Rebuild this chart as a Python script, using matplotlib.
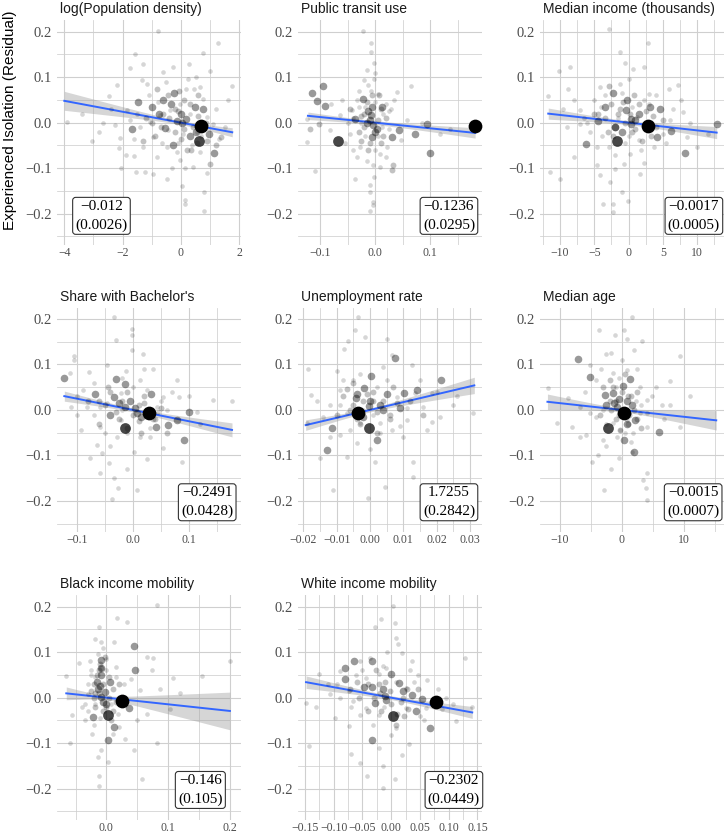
import matplotlib
matplotlib.use("Agg")
import matplotlib.pyplot as plt
import numpy as np
from matplotlib.ticker import MultipleLocator, FuncFormatter

# ---------------- data ----------------
titles = ["log(Population density)", "Public transit use", "Median income (thousands)",
          "Share with Bachelor's", "Unemployment rate", "Median age",
          "Black income mobility", "White income mobility"]
coefs = [-0.012, -0.1236, -0.0017, -0.2491, 1.7255, -0.0015, -0.146, -0.2302]
ses = [0.0026, 0.0295, 0.0005, 0.0428, 0.2842, 0.0007, 0.105, 0.0449]
coef_labels = ["\u22120.012", "\u22120.1236", "\u22120.0017", "\u22120.2491", "1.7255",
               "\u22120.0015", "\u22120.146", "\u22120.2302"]
se_labels = ["(0.0026)", "(0.0295)", "(0.0005)", "(0.0428)", "(0.2842)", "(0.0007)",
             "(0.105)", "(0.0449)"]
line_lo = [-4.0, -0.122, -11.7, -0.122, -0.0193, -12.0, -0.065, -0.148]
line_hi = [1.76, 0.182, 12.83, 0.176, 0.0313, 15.2, 0.2, 0.141]
x_limits = [(-4.25, 2.06), (-0.140, 0.1945), (-12.9, 13.9), (-0.135, 0.192),
            (-0.0216, 0.0336), (-13.2, 16.45), (-0.080, 0.218), (-0.162, 0.158)]
x_major = [2, 0.1, 5, 0.1, 0.01, 10, 0.1, 0.05]
x_minor = [1, 0.05, 2.5, 0.05, 0.005, 5, 0.05, 0.025]
x_decimals = [0, 1, 0, 1, 2, 0, 1, 2]
y_ticks = [-0.2, -0.1, 0.0, 0.1, 0.2]

# points: (x, y, weight class)
logpop_pts = [
    (0.69, -0.008, 5), (0.63, -0.041, 4),
    (1.14, -0.066, 3), (-0.24, 0.066, 3), (0.48, 0.035, 3), (0.19, 0.009, 3), (-0.13, 0.004, 3),
    (-1.46, 0.046, 3), (-1.69, -0.015, 3), (-0.26, -0.05, 3), (-1.0, 0.035, 3), (0.97, -0.024, 3),
    (-0.55, -0.012, 3), (0.05, 0.0, 3), (-0.35, 0.04, 3), (0.3, -0.03, 3), (0.75, 0.03, 3), (-0.75, 0.02, 3),
    (0.0, 0.02, 3), (-0.6, 0.05, 3), (0.5, -0.02, 3),
    (1.0, -0.09, 2), (1.39, -0.031, 2), (-0.83, 0.075, 2), (-0.6, 0.02, 2), (0.1, 0.05, 2), (-0.2, -0.02, 2),
    (0.4, -0.01, 2), (-1.2, 0.01, 2), (0.6, 0.06, 2), (-0.9, -0.03, 2), (0.2, -0.06, 2), (-0.45, 0.06, 2),
    (0.85, 0.0, 2), (-1.3, -0.04, 2), (0.0, -0.035, 2), (-0.1, 0.025, 2), (0.55, -0.045, 2),
    (-0.2, 0.03, 2), (0.3, 0.04, 2), (-0.7, -0.01, 2), (0.1, -0.015, 2), (-0.4, 0.01, 2), (0.6, 0.015, 2),
    (-1.0, 0.0, 2), (0.9, -0.04, 2), (-0.05, 0.07, 2), (0.35, -0.06, 2), (1.2, -0.05, 2),
    (-3.9, 0.002, 1), (-3.05, -0.041, 1), (-2.47, 0.058, 1), (-2.19, 0.083, 1), (-2.08, -0.033, 1),
    (-2.11, -0.055, 1), (-2.05, -0.1, 1), (-1.73, 0.121, 1), (-1.57, 0.151, 1), (-1.62, -0.074, 1),
    (-1.55, -0.108, 1), (-1.29, 0.13, 1), (-1.22, -0.108, 1), (-0.97, -0.112, 1), (-0.77, 0.202, 1),
    (-0.49, -0.124, 1), (0.02, -0.14, 1), (0.15, -0.17, 1), (0.14, -0.179, 1), (0.74, 0.154, 1),
    (1.27, 0.176, 1), (1.0, 0.113, 1), (0.79, -0.195, 1), (0.79, -0.152, 1), (1.75, 0.081, 1),
    (1.31, -0.035, 1), (0.29, 0.129, 1), (-0.26, 0.123, 1), (-0.61, 0.112, 1), (0.19, 0.075, 1),
    (0.65, 0.079, 1), (0.77, 0.053, 1), (-1.18, 0.086, 1), (-1.35, 0.094, 1), (-1.86, 0.028, 1),
    (-2.26, -0.005, 1), (-2.66, 0.0, 1), (-1.29, -0.053, 1), (-0.83, -0.075, 1), (-0.03, -0.083, 1),
    (0.42, -0.097, 1), (0.65, -0.064, 1), (0.37, -0.05, 1), (-0.49, -0.053, 1), (-0.95, -0.031, 1),
    (-0.72, 0.017, 1), (-0.38, 0.028, 1), (-0.03, 0.042, 1), (0.31, 0.02, 1), (0.88, 0.013, 1),
    (1.11, -0.002, 1), (-1.06, 0.002, 1), (-1.41, -0.009, 1), (-1.75, 0.006, 1), (-0.43, -0.017, 1),
    (0.08, -0.024, 1), (0.54, -0.02, 1), (-0.15, -0.065, 1), (0.25, 0.095, 1), (-0.5, 0.09, 1),
    (1.2, 0.03, 1), (1.5, -0.01, 1), (-2.4, 0.03, 1), (-1.9, -0.07, 1), (0.9, -0.11, 1), (-0.3, -0.1, 1),
    (0.5, 0.1, 1), (-1.1, 0.06, 1), (-0.65, -0.045, 1), (0.15, -0.1, 1), (1.6, 0.05, 1), (-3.4, 0.02, 1),
    (-2.8, -0.02, 1), (-1.5, 0.02, 1), (-0.8, 0.045, 1), (0.45, 0.075, 1), (-0.1, -0.045, 1),
    (0.7, -0.03, 1), (-1.6, -0.035, 1),
]
transit_pts = [
    (0.182, -0.008, 5), (-0.068, -0.04, 4),
    (-0.115, 0.066, 3), (-0.105, 0.047, 3), (-0.094, 0.081, 3), (-0.091, 0.036, 3), (0.094, -0.004, 3),
    (0.072, -0.024, 3), (0.1, -0.066, 3), (0.044, -0.017, 3), (0.03, -0.031, 3), (0.013, 0.035, 3),
    (-0.006, 0.035, 3), (-0.008, 0.017, 3), (-0.015, 0.0, 3), (-0.021, 0.053, 3), (-0.036, 0.008, 3),
    (0.003, -0.013, 3), (-0.006, -0.031, 3), (-0.01, 0.005, 3), (-0.004, -0.005, 3),
    (-0.012, 0.025, 3), (0.0, -0.02, 3),
    (-0.118, -0.015, 2), (-0.101, -0.004, 2), (0.032, -0.092, 2), (0.03, -0.105, 2), (-0.02, 0.02, 2),
    (-0.03, -0.02, 2), (0.01, -0.045, 2), (0.02, 0.01, 2), (-0.012, -0.06, 2), (-0.045, 0.03, 2),
    (0.008, 0.06, 2), (-0.025, -0.04, 2), (-0.02, -0.01, 2), (0.01, 0.03, 2), (-0.005, 0.06, 2),
    (-0.015, 0.045, 2), (0.005, 0.005, 2), (-0.025, 0.015, 2), (0.015, -0.03, 2), (-0.01, -0.045, 2),
    (-0.021, 0.202, 1), (-0.007, 0.176, 1), (-0.007, 0.156, 1), (-0.002, 0.132, 1), (-0.002, 0.097, 1),
    (-0.015, 0.115, 1), (-0.012, 0.082, 1), (-0.004, -0.094, 1), (-0.002, -0.119, 1), (-0.009, -0.138, 1),
    (-0.009, -0.152, 1), (-0.004, -0.174, 1), (-0.003, -0.18, 1), (-0.01, -0.195, 1), (-0.036, -0.123, 1),
    (-0.11, -0.107, 1), (-0.124, -0.042, 1), (0.04, 0.068, 1), (0.065, 0.08, 1), (0.029, 0.031, 1),
    (0.021, -0.053, 1), (0.009, -0.069, 1), (-0.033, -0.075, 1), (-0.027, -0.053, 1), (-0.045, -0.024, 1),
    (-0.042, 0.028, 1), (-0.033, 0.05, 1), (-0.02, 0.094, 1), (0.006, 0.064, 1), (-0.124, 0.007, 1),
    (-0.082, -0.017, 1), (-0.064, 0.017, 1), (0.048, -0.039, 1), (0.058, 0.006, 1), (0.136, -0.013, 1),
    (0.118, -0.024, 1), (0.009, -0.097, 1), (-0.05, 0.0, 1), (-0.055, -0.045, 1), (0.015, 0.02, 1),
    (-0.018, 0.035, 1), (0.0, 0.045, 1), (-0.03, 0.07, 1), (0.025, -0.015, 1), (-0.015, -0.085, 1),
    (-0.06, 0.05, 1), (0.035, 0.05, 1), (-0.04, -0.06, 1), (0.0, 0.11, 1), (0.005, -0.03, 1),
    (-0.025, 0.0, 1), (-0.08, 0.04, 1), (0.085, 0.0, 1), (0.02, -0.075, 1), (-0.03, 0.035, 1),
    (0.02, 0.04, 1), (-0.04, 0.01, 1), (0.0, -0.06, 1), (-0.008, 0.07, 1), (0.012, -0.01, 1),
    (-0.018, -0.03, 1), (0.025, 0.025, 1),
]
income_pts = [
    (2.83, -0.008, 5), (-1.71, -0.04, 4),
    (3.07, 0.035, 3), (4.54, 0.031, 3), (0.34, 0.009, 3), (0.34, -0.003, 3), (-2.2, 0.066, 3),
    (-3.37, 0.035, 3), (-0.39, 0.028, 3), (8.15, -0.066, 3), (12.83, -0.004, 3), (6.2, -0.019, 3),
    (4.15, -0.031, 3), (-6.2, -0.047, 3), (-1.95, -0.009, 3), (-4.4, 0.004, 3), (-0.24, 0.05, 3),
    (1.5, 0.02, 3), (-1.0, -0.02, 3), (-2.0, -0.01, 3), (1.0, 0.005, 3),
    (-2.5, 0.04, 2), (2.0, -0.04, 2), (0.8, 0.06, 2), (-3.0, -0.02, 2), (-5.0, 0.02, 2), (5.0, 0.005, 2),
    (1.0, -0.015, 2), (-0.5, 0.0, 2), (3.5, 0.015, 2), (-2.8, 0.08, 2), (3.2, -0.03, 2), (-1.2, 0.03, 2),
    (-1.5, 0.02, 2), (0.5, -0.02, 2), (-3.5, 0.01, 2), (1.5, 0.04, 2), (-2.2, -0.03, 2), (4.0, -0.01, 2),
    (-0.8, 0.045, 2), (2.5, 0.025, 2), (-4.5, 0.02, 2), (0.2, 0.02, 2),
    (-10.1, 0.114, 1), (-10.0, -0.123, 1), (-11.5, -0.108, 1), (-11.7, 0.058, 1), (-8.5, 0.123, 1),
    (-8.8, 0.073, 1), (-8.0, 0.05, 1), (-8.9, -0.009, 1), (-7.1, -0.002, 1), (-8.0, -0.075, 1),
    (-4.6, -0.094, 1), (-4.1, -0.116, 1), (-2.7, -0.13, 1), (-1.95, -0.101, 1), (-2.3, -0.178, 1),
    (-3.66, -0.178, 1), (-2.3, -0.196, 1), (-0.1, -0.173, 1), (-1.0, -0.152, 1), (-2.9, 0.205, 1),
    (-1.2, 0.156, 1), (-0.5, 0.132, 1), (0.6, 0.119, 1), (2.78, 0.176, 1), (2.2, 0.123, 1),
    (2.93, 0.063, 1), (5.9, 0.075, 1), (7.2, 0.083, 1), (6.1, 0.006, 1), (8.5, -0.031, 1),
    (10.0, -0.053, 1), (11.5, -0.024, 1), (2.3, -0.088, 1), (1.7, -0.112, 1), (-0.73, -0.09, 1),
    (0.24, -0.068, 1), (1.46, -0.039, 1), (-5.6, -0.02, 1), (-7.1, 0.028, 1), (-5.1, 0.05, 1),
    (-4.1, 0.079, 1), (-1.2, 0.086, 1), (1.2, 0.013, 1), (2.2, 0.05, 1), (3.7, -0.053, 1),
    (-2.9, -0.053, 1), (-4.6, -0.053, 1), (7.6, 0.05, 1), (8.0, 0.024, 1), (-6.5, 0.01, 1),
    (-3.5, 0.06, 1), (0.0, 0.095, 1), (4.0, 0.06, 1), (-0.5, -0.045, 1), (1.8, -0.06, 1),
    (-3.8, -0.03, 1), (5.5, -0.045, 1), (9.0, 0.0, 1), (-9.5, 0.03, 1), (0.5, 0.035, 1),
    (-1.5, 0.01, 1), (2.5, 0.0, 1), (-2.0, -0.07, 1), (6.5, 0.03, 1), (-4.0, 0.035, 1),
    (-1.0, 0.065, 1), (3.0, 0.04, 1), (0.0, -0.03, 1), (-6.0, 0.0, 1), (5.0, -0.025, 1),
]
bachelor_pts = [
    (0.029, -0.007, 5), (-0.015, -0.039, 4),
    (0.09, -0.066, 3), (0.1, -0.004, 3), (0.078, -0.022, 3), (0.063, -0.033, 3), (0.032, 0.035, 3),
    (-0.03, 0.067, 3), (-0.015, 0.056, 3), (-0.067, 0.034, 3), (-0.122, 0.071, 3), (-0.015, 0.006, 3),
    (0.003, 0.004, 3), (0.007, -0.007, 3), (-0.04, -0.011, 3), (0.041, -0.037, 3), (-0.034, 0.029, 3),
    (-0.005, 0.02, 3), (-0.025, 0.015, 3), (0.015, -0.015, 3),
    (-0.05, 0.01, 2), (0.02, 0.015, 2), (-0.025, -0.02, 2), (0.05, 0.005, 2), (-0.08, 0.02, 2),
    (0.015, -0.05, 2), (-0.01, 0.04, 2), (0.035, -0.02, 2), (-0.06, -0.03, 2), (0.06, -0.05, 2),
    (-0.045, 0.05, 2), (0.01, -0.025, 2), (-0.02, 0.02, 2), (0.0, -0.01, 2), (-0.04, 0.04, 2),
    (0.02, 0.03, 2), (-0.03, -0.005, 2), (0.01, 0.01, 2), (-0.06, 0.02, 2), (0.04, -0.02, 2),
    (-0.01, -0.04, 2),
    (-0.034, 0.204, 1), (-0.002, 0.177, 1), (-0.002, 0.165, 1), (-0.031, 0.154, 1), (-0.002, 0.132, 1),
    (0.018, 0.123, 1), (0.036, 0.089, 1), (-0.105, 0.119, 1), (-0.105, 0.11, 1), (-0.112, 0.082, 1),
    (-0.079, 0.084, 1), (-0.046, 0.099, 1), (-0.012, 0.086, 1), (0.078, 0.066, 1), (0.081, 0.029, 1),
    (0.143, 0.023, 1), (0.176, 0.02, 1), (0.114, -0.004, 1), (0.054, -0.084, 1), (0.087, -0.114, 1),
    (0.025, -0.108, 1), (0.008, -0.177, 1), (0.001, -0.092, 1), (-0.027, -0.172, 1), (-0.038, -0.196, 1),
    (-0.034, -0.15, 1), (-0.043, -0.117, 1), (-0.058, -0.139, 1), (-0.055, -0.095, 1), (-0.076, -0.106, 1),
    (-0.064, -0.077, 1), (-0.093, -0.044, 1), (-0.099, -0.011, 1), (-0.111, 0.007, 1), (-0.088, 0.044, 1),
    (-0.058, 0.007, 1), (-0.058, -0.037, 1), (-0.028, -0.059, 1), (-0.011, -0.051, 1), (0.013, -0.059, 1),
    (0.043, 0.007, 1), (0.054, 0.029, 1), (0.025, 0.044, 1), (0.013, 0.066, 1), (-0.022, 0.037, 1),
    (-0.046, 0.015, 1), (-0.082, 0.007, 1), (-0.022, -0.022, 1), (0.025, -0.015, 1), (0.06, 0.0, 1),
    (-0.07, 0.06, 1), (0.0, 0.05, 1), (0.03, -0.06, 1), (-0.04, -0.08, 1), (0.1, 0.03, 1),
    (0.12, -0.03, 1), (-0.1, 0.03, 1), (0.02, 0.09, 1), (-0.01, -0.13, 1), (0.07, 0.04, 1),
    (-0.02, 0.0, 1), (0.045, -0.005, 1), (0.05, 0.02, 1), (-0.07, -0.01, 1), (-0.02, 0.07, 1),
    (0.03, -0.04, 1), (-0.05, -0.05, 1),
]
unemp_pts = [
    (-0.0037, -0.007, 5), (-0.0002, -0.039, 4),
    (0.0022, -0.066, 3), (0.0212, 0.066, 3), (0.004, 0.0, 3), (0.005, 0.034, 3), (0.0102, 0.037, 3),
    (-0.0002, 0.009, 3), (-0.0017, 0.048, 3), (-0.0042, 0.026, 3), (0.0075, 0.114, 3), (0.0002, 0.075, 3),
    (-0.013, -0.089, 3), (-0.0115, -0.04, 3), (0.009, 0.004, 3), (0.014, 0.044, 3), (0.003, 0.01, 3),
    (-0.002, -0.015, 3), (0.0, 0.02, 3), (-0.004, 0.035, 3),
    (-0.006, 0.0, 2), (0.001, 0.02, 2), (-0.008, 0.03, 2), (0.006, -0.02, 2), (-0.003, -0.03, 2),
    (0.012, 0.02, 2), (-0.01, -0.01, 2), (0.002, -0.05, 2), (0.007, 0.05, 2), (-0.005, 0.06, 2),
    (0.016, -0.01, 2), (-0.001, 0.035, 2), (-0.002, 0.02, 2), (0.002, -0.005, 2), (-0.005, 0.01, 2),
    (0.004, 0.02, 2), (-0.004, -0.02, 2), (0.001, 0.04, 2), (-0.007, 0.045, 2), (0.006, -0.01, 2),
    (0.008, 0.015, 2),
    (-0.0185, 0.089, 1), (-0.0178, 0.033, 1), (-0.019, -0.029, 1), (-0.015, -0.106, 1), (-0.011, -0.177, 1),
    (-0.0035, 0.204, 1), (-0.0045, 0.176, 1), (-0.0015, 0.161, 1), (-0.0065, 0.152, 1), (0.0052, 0.155, 1),
    (-0.0078, 0.134, 1), (0.0065, 0.121, 1), (0.0125, 0.099, 1), (0.015, 0.066, 1), (0.0135, 0.037, 1),
    (0.0185, 0.037, 1), (0.021, -0.015, 1), (0.0185, -0.026, 1), (0.025, 0.011, 1), (0.031, -0.007, 1),
    (0.013, -0.114, 1), (0.013, -0.147, 1), (0.0045, -0.17, 1), (-0.0005, -0.194, 1), (0.0015, -0.114, 1),
    (-0.004, -0.073, 1), (-0.007, -0.103, 1), (-0.009, -0.055, 1), (-0.014, -0.015, 1), (-0.012, 0.011, 1),
    (-0.009, 0.044, 1), (-0.008, 0.066, 1), (-0.005, 0.066, 1), (0.002, 0.051, 1), (0.005, 0.066, 1),
    (0.0065, -0.044, 1), (0.003, -0.029, 1), (-0.003, -0.029, 1), (-0.007, -0.007, 1), (0.011, -0.022, 1),
    (0.008, 0.029, 1), (0.016, 0.007, 1), (0.017, -0.044, 1), (-0.016, 0.02, 1), (-0.012, -0.06, 1),
    (0.0, -0.085, 1), (0.01, -0.06, 1), (0.02, 0.04, 1), (0.026, 0.03, 1), (-0.01, 0.085, 1),
    (0.004, 0.095, 1), (-0.002, 0.0, 1), (0.001, -0.01, 1), (0.009, -0.035, 1), (-0.009, 0.01, 1),
    (0.011, 0.005, 1), (-0.003, 0.08, 1), (0.003, -0.05, 1), (-0.006, -0.045, 1),
]
age_pts = [
    (0.32, -0.007, 5), (-2.2, -0.039, 4),
    (0.32, -0.066, 3), (1.3, 0.067, 3), (0.1, 0.053, 3), (-2.7, 0.033, 3), (-1.4, 0.037, 3),
    (-2.5, 0.01, 3), (2.1, -0.022, 3), (5.9, -0.048, 3), (-7.15, 0.113, 3), (-5.2, 0.073, 3),
    (-0.86, 0.007, 3), (1.56, 0.012, 3), (1.9, -0.093, 3), (-0.5, 0.025, 3), (0.8, -0.03, 3),
    (-1.2, 0.015, 3), (0.8, 0.02, 3),
    (-1.0, -0.02, 2), (1.0, 0.03, 2), (-3.0, 0.05, 2), (2.5, 0.04, 2), (-1.8, 0.0, 2), (0.5, 0.08, 2),
    (3.0, -0.04, 2), (-3.5, -0.01, 2), (1.2, -0.01, 2), (-0.3, -0.045, 2), (2.0, 0.0, 2), (-2.0, 0.065, 2),
    (-1.0, 0.02, 2), (0.5, 0.0, 2), (-2.0, 0.02, 2), (1.5, 0.03, 2), (-0.5, -0.01, 2), (1.0, -0.03, 2),
    (-1.5, 0.05, 2), (0.0, 0.04, 2), (2.5, -0.02, 2),
    (-11.9, 0.048, 1), (-10.4, -0.029, 1), (-8.7, 0.026, 1), (-8.1, -0.037, 1), (-6.8, -0.059, 1),
    (-5.8, -0.055, 1), (-5.2, 0.099, 1), (-3.7, 0.176, 1), (-1.1, 0.165, 1), (0.32, 0.176, 1),
    (0.75, 0.155, 1), (1.56, 0.204, 1), (3.3, 0.152, 1), (1.9, 0.132, 1), (-2.6, 0.123, 1),
    (-1.8, 0.126, 1), (9.35, 0.119, 1), (7.7, 0.064, 1), (10.9, 0.031, 1), (7.7, 0.011, 1),
    (9.35, -0.037, 1), (4.9, 0.031, 1), (6.4, 0.011, 1), (1.7, -0.093, 1), (4.0, -0.139, 1),
    (3.4, -0.154, 1), (3.9, -0.172, 1), (4.0, -0.198, 1), (-2.9, -0.177, 1), (-1.8, -0.129, 1),
    (-0.4, -0.106, 1), (-3.8, -0.099, 1), (-4.9, -0.114, 1), (-3.0, -0.066, 1), (-0.3, -0.044, 1),
    (1.8, -0.051, 1), (4.0, -0.037, 1), (2.9, -0.007, 1), (4.0, 0.022, 1), (2.9, 0.051, 1),
    (0.75, 0.088, 1), (-1.4, 0.081, 1), (-4.1, 0.066, 1), (-4.1, -0.015, 1), (-6.8, 0.007, 1),
    (-5.2, -0.007, 1), (0.75, -0.022, 1), (-1.4, -0.029, 1), (4.0, -0.007, 1), (-2.5, -0.08, 1),
    (2.5, 0.09, 1), (0.0, 0.11, 1), (-1.0, 0.05, 1), (1.5, -0.07, 1), (5.5, 0.05, 1), (-6.0, 0.04, 1),
    (2.2, 0.02, 1), (-0.8, -0.06, 1), (6.8, -0.02, 1), (-3.3, 0.09, 1), (-3.0, 0.0, 1),
    (3.0, 0.01, 1), (-0.5, 0.07, 1), (0.5, -0.05, 1), (-2.5, -0.03, 1),
]
black_pts = [
    (0.025, -0.007, 5), (0.003, -0.037, 4),
    (0.012, -0.064, 3), (0.037, -0.023, 3), (0.006, 0.034, 3), (-0.009, 0.066, 3), (-0.009, 0.082, 3),
    (-0.008, 0.001, 3), (-0.008, 0.049, 3), (0.045, 0.113, 3), (0.046, 0.06, 3), (-0.013, 0.02, 3),
    (-0.002, 0.012, 3), (0.003, -0.094, 3), (-0.021, -0.042, 3), (-0.015, 0.035, 3), (0.0, -0.015, 3),
    (-0.01, 0.025, 3), (-0.005, -0.01, 3),
    (-0.02, 0.0, 2), (0.01, 0.02, 2), (-0.012, 0.06, 2), (-0.005, -0.03, 2), (0.015, -0.01, 2),
    (-0.018, -0.02, 2), (0.005, 0.045, 2), (-0.01, 0.075, 2), (0.02, 0.03, 2), (-0.025, 0.015, 2),
    (0.008, -0.05, 2), (-0.003, 0.09, 2), (-0.012, 0.01, 2), (-0.005, 0.03, 2), (-0.015, 0.05, 2),
    (0.0, -0.02, 2), (-0.02, 0.03, 2), (0.005, 0.0, 2), (-0.008, 0.065, 2), (-0.018, 0.01, 2),
    (0.01, -0.03, 2),
    (-0.065, 0.047, 1), (-0.059, -0.1, 1), (-0.055, -0.037, 1), (-0.045, 0.076, 1), (-0.026, 0.081, 1),
    (-0.012, 0.155, 1), (0.017, 0.175, 1), (0.034, 0.166, 1), (-0.019, 0.13, 1), (-0.008, 0.122, 1),
    (0.013, 0.122, 1), (0.082, 0.204, 1), (0.076, 0.088, 1), (0.074, 0.06, 1), (0.108, 0.043, 1),
    (0.155, 0.047, 1), (0.2, 0.08, 1), (0.087, 0.02, 1), (0.103, -0.024, 1), (0.082, -0.1, 1),
    (0.045, -0.114, 1), (0.058, -0.178, 1), (-0.012, -0.195, 1), (-0.012, -0.173, 1), (0.002, -0.141, 1),
    (-0.013, -0.13, 1), (-0.008, -0.116, 1), (-0.024, -0.079, 1), (-0.034, -0.05, 1), (0.021, -0.064, 1),
    (0.018, -0.035, 1), (0.029, 0.031, 1), (0.016, 0.067, 1), (-0.018, 0.045, 1), (-0.029, 0.009, 1),
    (-0.034, -0.013, 1), (-0.018, -0.013, 1), (0.008, -0.013, 1), (0.055, 0.016, 1), (0.066, -0.035, 1),
    (0.029, 0.001, 1), (-0.013, 0.097, 1), (-0.025, 0.05, 1), (-0.02, -0.06, 1), (0.0, 0.06, 1),
    (0.01, -0.08, 1), (-0.03, 0.03, 1), (0.04, 0.04, 1), (0.05, -0.05, 1), (-0.005, 0.11, 1),
    (0.03, -0.09, 1), (-0.04, -0.02, 1), (0.12, 0.01, 1), (0.065, 0.09, 1), (-0.01, -0.045, 1),
    (-0.025, 0.06, 1), (0.015, 0.045, 1), (-0.03, -0.03, 1), (0.0, 0.085, 1),
]
white_pts = [
    (0.078, -0.009, 5), (0.003, -0.04, 4),
    (0.067, -0.066, 3), (0.053, -0.004, 3), (0.037, 0.005, 3), (0.013, 0.033, 3), (-0.010, 0.004, 3),
    (-0.009, -0.006, 3), (-0.048, 0.023, 3), (-0.033, 0.023, 3), (-0.065, 0.081, 3), (-0.081, 0.066, 3),
    (-0.080, 0.040, 3), (-0.033, 0.081, 3), (0.0, 0.051, 3), (-0.028, -0.011, 3), (-0.033, -0.092, 3),
    (0.043, -0.029, 3), (-0.015, 0.02, 3), (0.02, 0.015, 3),
    (-0.022, 0.03, 2), (0.017, -0.01, 2), (-0.056, 0.0, 2), (0.027, 0.02, 2), (-0.041, -0.03, 2),
    (-0.002, 0.015, 2), (-0.017, -0.03, 2), (0.047, 0.02, 2), (-0.071, 0.02, 2), (0.008, -0.06, 2),
    (-0.027, 0.06, 2), (0.022, -0.04, 2), (-0.02, 0.01, 2), (0.0, -0.015, 2), (-0.04, 0.03, 2),
    (0.02, 0.0, 2), (-0.01, 0.035, 2), (-0.06, 0.035, 2), (0.03, -0.025, 2), (-0.03, 0.0, 2),
    (0.01, -0.035, 2),
    (-0.148, -0.011, 1), (-0.143, -0.106, 1), (-0.125, 0.051, 1), (-0.107, 0.007, 1), (-0.098, -0.044, 1),
    (-0.073, -0.062, 1), (-0.070, -0.123, 1), (-0.055, -0.143, 1), (-0.042, -0.172, 1), (-0.014, -0.15, 1),
    (-0.014, -0.198, 1), (0.006, -0.179, 1), (-0.021, -0.11, 1), (0.0, -0.081, 1), (0.009, -0.066, 1),
    (0.031, -0.101, 1), (0.019, -0.125, 1), (0.003, 0.201, 1), (-0.018, 0.172, 1), (0.006, 0.165, 1),
    (-0.028, 0.155, 1), (0.009, 0.132, 1), (0.012, 0.119, 1), (0.019, 0.099, 1), (0.037, 0.081, 1),
    (-0.036, 0.088, 1), (-0.055, 0.081, 1), (-0.089, 0.059, 1), (-0.095, 0.029, 1), (0.063, 0.038, 1),
    (0.082, 0.018, 1), (0.107, -0.015, 1), (0.112, -0.051, 1), (0.129, 0.088, 1), (0.061, -0.022, 1),
    (0.025, -0.022, 1), (-0.021, -0.037, 1), (-0.043, -0.022, 1), (-0.067, -0.007, 1), (-0.055, -0.037, 1),
    (-0.043, 0.044, 1), (-0.021, 0.051, 1), (-0.009, 0.066, 1), (0.025, 0.022, 1), (0.089, -0.026, 1),
    (-0.073, 0.015, 1), (-0.089, 0.0, 1), (-0.11, 0.03, 1), (-0.007, 0.1, 1), (-0.032, -0.06, 1),
    (0.047, 0.05, 1), (0.096, 0.0, 1), (-0.061, 0.05, 1), (-0.012, -0.02, 1), (0.032, 0.06, 1),
    (-0.13, -0.02, 1), (0.057, -0.05, 1), (0.008, 0.035, 1), (0.14, -0.02, 1), (-0.05, 0.06, 1),
    (0.04, 0.035, 1), (-0.07, -0.02, 1), (0.05, -0.04, 1), (-0.015, 0.07, 1),
]
panel_points = [logpop_pts, transit_pts, income_pts, bachelor_pts, unemp_pts, age_pts,
                black_pts, white_pts]

# ---------------- styling / layout ----------------
W, H = 727, 834
fig = plt.figure(figsize=(W / 100, H / 100), dpi=100)
col_left_px = [57, 298, 540]
row_top_px = [20.3, 307.6, 595.3]
ax_w_px, ax_h_px = 184, 224.3
box_anchor = [(0.100, 'left'), (0.962, 'right'), (0.978, 'right'),
              (0.958, 'right'), (0.962, 'right'), (0.974, 'right'),
              (0.900, 'right'), (0.989, 'right')]
box_bottom = [0.058, 0.058, 0.058, 0.062, 0.062, 0.062, 0.062, 0.062]
size_map = {1: 11, 2: 18, 3: 30, 4: 60, 5: 98}
alpha_map = {1: 0.16, 2: 0.24, 3: 0.4, 4: 0.72, 5: 1.0}
grid_col = '#cfcfcf'
serif = 'Liberation Serif'
sans = 'Liberation Sans'


def fmt_factory(d):
    def f(v, pos):
        s = f"{v:.{d}f}"
        if float(s) == 0:
            s = f"{0:.{d}f}"
        return s.replace('-', '\u2212')
    return f


for i in range(8):
    r, c = divmod(i, 3)
    left = col_left_px[c] / W
    bottom = 1 - (row_top_px[r] + ax_h_px) / H
    ax = fig.add_axes([left, bottom, ax_w_px / W, ax_h_px / H])
    ax.set_xlim(*x_limits[i])
    ax.set_ylim(-0.268, 0.225)
    for s in ax.spines.values():
        s.set_visible(False)
    ax.set_axisbelow(True)
    ax.xaxis.set_major_locator(MultipleLocator(x_major[i]))
    ax.xaxis.set_minor_locator(MultipleLocator(x_minor[i]))
    ax.set_yticks(y_ticks)
    ax.yaxis.set_minor_locator(MultipleLocator(0.05))
    ax.xaxis.set_major_formatter(FuncFormatter(fmt_factory(x_decimals[i])))
    ax.yaxis.set_major_formatter(FuncFormatter(fmt_factory(1)))
    ax.grid(which='major', color=grid_col, lw=0.8)
    ax.grid(which='minor', color=grid_col, lw=0.55)
    ax.tick_params(which='both', length=0)
    ax.tick_params(axis='y', pad=3.8, labelsize=10.5, labelcolor='#4d4d4d')
    ax.tick_params(axis='x', pad=1.5, labelsize=8.5, labelcolor='#4d4d4d')
    for lab in ax.get_xticklabels() + ax.get_yticklabels():
        lab.set_fontfamily(serif)

    # regression line with confidence band
    xs = np.linspace(line_lo[i], line_hi[i], 120)
    ys = coefs[i] * xs
    hw = 1.96 * np.sqrt(0.0022 ** 2 + (ses[i] * xs) ** 2)
    ax.fill_between(xs, ys - hw, ys + hw, color='#999999', alpha=0.4, lw=0, zorder=2)
    ax.plot(xs, ys, color='#3366FF', lw=1.4, zorder=3)

    pts = panel_points[i]
    for wcls in [1, 2, 3, 4, 5]:
        sel = [p for p in pts if p[2] == wcls]
        if not sel:
            continue
        ax.scatter([p[0] for p in sel], [p[1] for p in sel], s=size_map[wcls],
                   color='black', alpha=alpha_map[wcls], lw=0, zorder=4)

    ax.text(0.015, 1.031, titles[i], transform=ax.transAxes, ha='left', va='baseline',
            fontsize=10, fontfamily=sans, color='#1a1a1a')

    bx, ha = box_anchor[i]
    ax.text(bx, box_bottom[i], coef_labels[i] + "\n" + se_labels[i], transform=ax.transAxes,
            ha=ha, va='bottom', ma='center', fontsize=11, fontfamily=serif, linespacing=1.5,
            color='black', zorder=6,
            bbox=dict(boxstyle='round,pad=0.18,rounding_size=0.2', fc='white', ec='#333333', lw=0.8))

fig.text(10 / W, 1 - 120 / H, "Experienced Isolation (Residual)", rotation=90,
         ha='center', va='center', fontsize=11, fontfamily=sans, color='black')

fig.savefig('out.png', dpi=100)
